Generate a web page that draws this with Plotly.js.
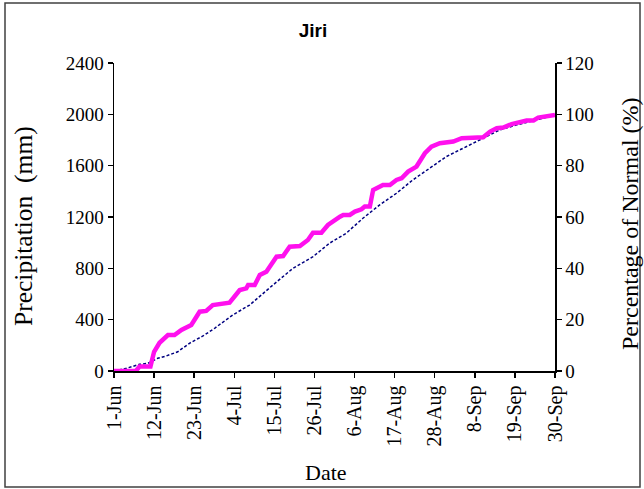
<!DOCTYPE html>
<html>
<head>
<meta charset="utf-8">
<script src="https://cdn.plot.ly/plotly-3.0.1.min.js"></script>
<style>body{margin:0;padding:0;background:#fff}#chart{width:644px;height:489px}</style>
</head>
<body>
<div id="chart"></div>
<script>
// Day offsets from 1-Jun (0) to 30-Sep (121)
const tickDays = [0, 11, 22, 33, 44, 55, 66, 77, 88, 99, 110, 121];
const tickLabels = ['1-Jun','12-Jun','23-Jun','4-Jul','15-Jul','26-Jul','6-Aug','17-Aug','28-Aug','8-Sep','19-Sep','30-Sep'];

// Actual cumulative precipitation (mm)
const actualDays = [0, 6, 7, 10, 11, 12.5, 14.8, 16.6, 18.5, 21.2, 23.5, 25.3, 27.1, 31.7, 34.5, 36.3, 36.8, 38.6, 40, 41.8, 44.6, 46.4, 48.2, 51, 53.2, 54.6, 56.9, 58.7, 62, 62.9, 64.7, 66.1, 67.9, 68.8, 70.2, 71.1, 73.8, 75.7, 77.5, 78.9, 80.7, 83, 85.3, 87.1, 89.4, 93.1, 95.4, 101.3, 103.2, 105, 106.8, 109.1, 113.2, 115.1, 116.4, 121];
const actualMm = [0, 0, 35, 35, 150, 220, 280, 280, 320, 358, 462, 468, 514, 532, 631, 644, 670, 670, 748, 774, 891, 896, 969, 974, 1021, 1078, 1078, 1138, 1203, 1216, 1216, 1242, 1260, 1281, 1281, 1411, 1450, 1450, 1489, 1502, 1554, 1593, 1697, 1749, 1775, 1788, 1814, 1822, 1866, 1892, 1897, 1924, 1952, 1952, 1975, 1995];

// Normal cumulative precipitation (mm)
const normalDays = [0, 3.4, 7, 9.3, 12, 14.3, 17.5, 20.7, 24.4, 27.6, 32.6, 37.2, 43.6, 49.1, 54.6, 59.1, 63.7, 68.3, 72.9, 77.5, 82, 86.6, 91.2, 95.8, 101.3, 105.9, 110.5, 116, 121];
const normalMm = [0, 21, 52, 60, 99, 117, 150, 216, 273, 333, 437, 514, 670, 800, 891, 995, 1073, 1190, 1294, 1385, 1489, 1580, 1671, 1736, 1814, 1879, 1918, 1957, 1995];

const serif = 'Liberation Serif, Times New Roman, serif';

const traces = [
  {x: normalDays, y: normalMm, type: 'scatter', mode: 'lines', name: 'Normal',
   line: {color: '#000080', width: 1.5, dash: '3px,2px'}},
  {x: actualDays, y: actualMm, type: 'scatter', mode: 'lines', name: 'Actual',
   line: {color: '#ff10ee', width: 4.5}},
  {x: [], y: [], type: 'scatter', mode: 'lines', yaxis: 'y2', showlegend: false, hoverinfo: 'skip'}
];

const axisCommon = {
  showgrid: false, zeroline: false, showline: true, linecolor: '#000', linewidth: 1.5,
  ticks: 'outside', ticklen: 5, tickwidth: 1.5, tickcolor: '#000',
  tickfont: {family: serif, size: 19, color: '#000'}
};

// pixel -> paper helpers (plot area: x 114..555, y 63..371)
const px = v => (v - 114) / 441;
const py = v => (371 - v) / 308;

const titleFont = {family: serif, size: 24, color: '#000'};

const layout = {
  width: 644, height: 489,
  margin: {l: 114, r: 89, t: 63, b: 118},
  paper_bgcolor: '#fff', plot_bgcolor: '#fff',
  showlegend: false,
  title: {text: 'Jiri', font: {family: 'Liberation Sans, Arial, sans-serif', size: 19, color: '#000', weight: 'bold'},
          xref: 'container', yref: 'container', x: 313 / 644, y: 1 - 30 / 489, xanchor: 'center', yanchor: 'middle'},
  xaxis: Object.assign({}, axisCommon, {
    range: [0, 121], tickmode: 'array', tickvals: tickDays, ticktext: tickLabels, tickangle: -90,
    tickfont: {family: serif, size: 20, color: '#000'}
  }),
  yaxis: Object.assign({}, axisCommon, {
    range: [0, 2400], dtick: 400, tick0: 0
  }),
  yaxis2: Object.assign({}, axisCommon, {
    range: [0, 120], dtick: 20, tick0: 0, overlaying: 'y', side: 'right', anchor: 'x'
  }),
  annotations: [
    {text: 'Precipitation  (mm)', xref: 'paper', yref: 'paper', x: px(23), y: py(226),
     xanchor: 'center', yanchor: 'middle', textangle: -90, showarrow: false, font: Object.assign({}, titleFont, {size: 25.5})},
    {text: 'Percentage of Normal (%)', xref: 'paper', yref: 'paper', x: px(630), y: py(224),
     xanchor: 'center', yanchor: 'middle', textangle: -90, showarrow: false, font: titleFont},
    {text: 'Date', xref: 'paper', yref: 'paper', x: px(326), y: py(472),
     xanchor: 'center', yanchor: 'middle', showarrow: false, font: Object.assign({}, titleFont, {size: 22})}
  ],
  shapes: [{type: 'rect', xref: 'paper', yref: 'paper',
            x0: px(5), x1: px(640), y0: py(487), y1: py(3),
            line: {color: '#404040', width: 1.5}, fillcolor: 'rgba(0,0,0,0)'}]
};

Plotly.newPlot('chart', traces, layout, {staticPlot: true, displayModeBar: false});
</script>
</body>
</html>
